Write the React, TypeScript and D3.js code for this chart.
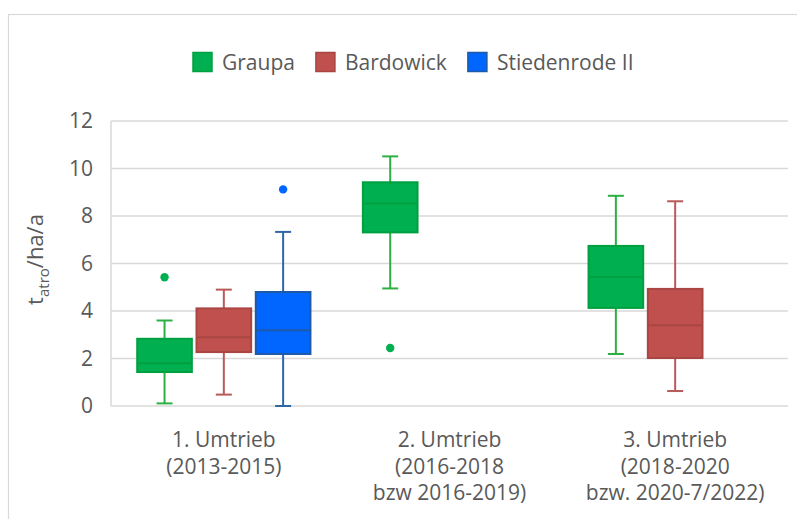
import React, { useEffect, useRef } from "react";
import * as d3 from "d3";

const categories: string[][] = [
  ["1. Umtrieb", "(2013-2015)"],
  ["2. Umtrieb", "(2016-2018", "bzw 2016-2019)"],
  ["3. Umtrieb", "(2018-2020", "bzw. 2020-7/2022)"],
];
const seriesNames = ["Graupa", "Bardowick", "Stiedenrode II"];
const yTicks = [0, 2, 4, 6, 8, 10, 12];

// per series, per category: [min, q1, median, q3, max] or null
const graupaStats = [
  [0.11, 1.43, 1.8, 2.83, 3.6],
  [4.95, 7.31, 8.53, 9.42, 10.51],
  [2.19, 4.13, 5.43, 6.74, 8.85],
];
const graupaOutliers = [[5.42], [2.44], []];
const bardowickStats = [
  [0.48, 2.27, 2.9, 4.11, 4.9],
  null,
  [0.63, 2.02, 3.4, 4.93, 8.62],
];
const bardowickOutliers = [[], [], []];
const stiedenrodeStats = [[0, 2.19, 3.19, 4.8, 7.33], null, null];
const stiedenrodeOutliers = [[9.12], [], []];

const fills = ["#00B050", "#C0504D", "#0066FF"];
const borders = ["#00A040", "#A94643", "#1F5AA8"];
const whiskerCols = ["#2DB043", "#B85A58", "#2E66A6"];

export default function App() {
  const ref = useRef<SVGSVGElement>(null);
  useEffect(() => {
    const svg = d3.select(ref.current);
    svg.selectAll("*").remove();
    const W = 797, H = 519;
    const left = 111, right = 788, top = 121, bottom = 406;
    const font = "'Open Sans', sans-serif";
    const textCol = "#595959";
    const fs = 21;

    svg.append("rect").attr("x", 8.5).attr("y", 14.5).attr("width", W).attr("height", H)
      .attr("fill", "#fff").attr("stroke", "#d9d9d9").attr("stroke-width", 1.2);

    const y = d3.scaleLinear().domain([0, 12]).range([bottom, top]);
    const x0 = d3.scaleBand<number>().domain(d3.range(categories.length)).range([left, right]);
    const x1 = d3.scaleBand<number>().domain(d3.range(seriesNames.length)).range([0, x0.bandwidth()])
      .paddingInner(0.078).paddingOuter(0.442);

    // grid
    svg.append("g").selectAll("line").data(yTicks).join("line")
      .attr("x1", left).attr("x2", right).attr("y1", d => y(d)).attr("y2", d => y(d))
      .attr("stroke", "#d9d9d9").attr("stroke-width", 1.5);
    svg.append("line").attr("x1", left).attr("x2", left).attr("y1", top).attr("y2", bottom)
      .attr("stroke", "#d9d9d9").attr("stroke-width", 1.5);

    // tick labels
    svg.append("g").selectAll("text").data(yTicks).join("text")
      .attr("x", 93).attr("y", d => y(d)).attr("dy", "0.35em").attr("text-anchor", "end")
      .attr("font-family", font).attr("font-size", fs).attr("fill", textCol).text(d => d);

    // y title
    const yt = svg.append("text").attr("transform", `translate(43,${(top + bottom) / 2 - 4}) rotate(-90)`)
      .attr("text-anchor", "middle").attr("font-family", font).attr("font-size", 22).attr("fill", textCol);
    yt.append("tspan").text("t");
    yt.append("tspan").attr("font-size", 15).attr("dy", 6).text("atro");
    yt.append("tspan").attr("dy", -6).text("/ha/a");

    // categories
    const cg = svg.append("g");
    categories.forEach((lines, i) => {
      const cx = (x0(i) as number) + x0.bandwidth() / 2;
      const t = cg.append("text").attr("text-anchor", "middle").attr("font-family", font)
        .attr("font-size", fs).attr("fill", textCol);
      lines.forEach((l, j) => {
        t.append("tspan").attr("x", cx).attr("y", 447 + j * 26.5).text(l);
      });
    });

    const allStats = [graupaStats, bardowickStats, stiedenrodeStats];
    const allOut = [graupaOutliers, bardowickOutliers, stiedenrodeOutliers];
    const bw = x1.bandwidth();
    const capW = 16;
    allStats.forEach((stats, s) => {
      const g = svg.append("g");
      stats.forEach((st, c) => {
        if (!st) return;
        const [mn, q1, md, q3, mx] = st;
        const bx = (x0(c) as number) + (x1(s) as number);
        const cx = bx + bw / 2;
        const wc = whiskerCols[s];
        g.append("line").attr("x1", cx).attr("x2", cx).attr("y1", y(mx)).attr("y2", y(q3))
          .attr("stroke", wc).attr("stroke-width", 2);
        g.append("line").attr("x1", cx).attr("x2", cx).attr("y1", y(q1)).attr("y2", y(mn))
          .attr("stroke", wc).attr("stroke-width", 2);
        [mn, mx].forEach(v => {
          g.append("line").attr("x1", cx - capW / 2).attr("x2", cx + capW / 2)
            .attr("y1", y(v)).attr("y2", y(v)).attr("stroke", wc).attr("stroke-width", 2);
        });
        g.append("rect").attr("x", bx).attr("y", y(q3)).attr("width", bw).attr("height", y(q1) - y(q3))
          .attr("fill", fills[s]).attr("stroke", borders[s]).attr("stroke-width", 2);
        g.append("line").attr("x1", bx).attr("x2", bx + bw).attr("y1", y(md)).attr("y2", y(md))
          .attr("stroke", borders[s]).attr("stroke-width", 2);
        allOut[s][c].forEach(v => {
          g.append("circle").attr("cx", cx).attr("cy", y(v)).attr("r", 4.2).attr("fill", fills[s]);
        });
      });
    });

    // legend
    const lg = svg.append("g");
    let lx = 192;
    seriesNames.forEach((n, i) => {
      lg.append("rect").attr("x", lx + 1).attr("y", 52.5).attr("width", 19).attr("height", 19)
        .attr("fill", fills[i]).attr("stroke", borders[i]).attr("stroke-width", 1.5);
      const t = lg.append("text").attr("x", lx + 30).attr("y", 69.5).attr("font-family", font)
        .attr("font-size", fs).attr("fill", textCol).text(n);
      const w = (t.node() as SVGTextElement).getComputedTextLength();
      lx += 30 + w + 20;
    });
  }, []);
  return (
    <svg ref={ref} width={797} height={519}
      style={{ position: "absolute", left: 0, top: 0, background: "#fff" }} />
  );
}
